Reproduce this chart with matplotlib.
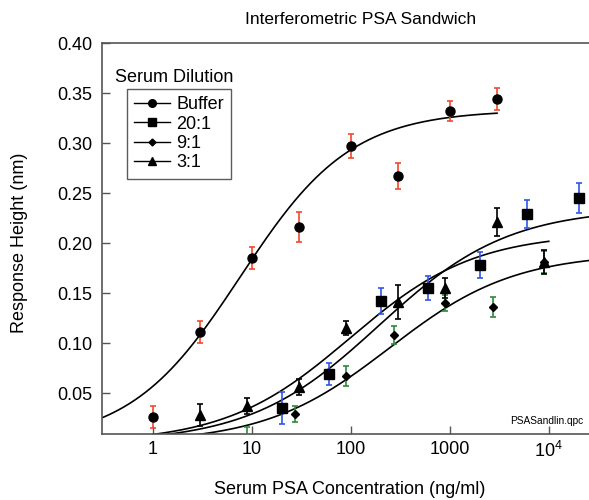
import numpy as np
import matplotlib
matplotlib.use("Agg")
import matplotlib.pyplot as plt
from matplotlib.lines import Line2D
from matplotlib.ticker import FixedLocator, FixedFormatter

plt.rcParams['font.family'] = ['Liberation Sans', 'DejaVu Sans']
plt.rcParams['mathtext.default'] = 'regular'

# measured points (conc ng/ml, response nm, +/- error)
buffer_x = [1, 3, 10, 30, 100, 300, 1000, 3000]
buffer_y = [0.026, 0.111, 0.185, 0.216, 0.297, 0.267, 0.332, 0.344]
buffer_err = [0.011, 0.011, 0.011, 0.015, 0.012, 0.013, 0.010, 0.011]

d20_x = [20, 60, 200, 600, 2000, 6000, 20000]
d20_y = [0.035, 0.069, 0.142, 0.155, 0.178, 0.229, 0.245]
d20_err = [0.016, 0.011, 0.013, 0.012, 0.013, 0.014, 0.015]

d9_x = [9, 27, 90, 270, 900, 2700, 9000]
d9_y = [0.004, 0.029, 0.067, 0.108, 0.140, 0.136, 0.181]
d9_err = [0.012, 0.008, 0.010, 0.009, 0.008, 0.010, 0.011]

d3_x = [3, 9, 30, 90, 300, 900, 3000, 9000]
d3_y = [0.028, 0.037, 0.056, 0.115, 0.141, 0.155, 0.221, 0.181]
d3_err = [0.011, 0.008, 0.008, 0.007, 0.017, 0.010, 0.014, 0.012]

# logistic fit parameters (top, midpoint, slope) and drawn x range
fit_top = [0.333, 0.235, 0.19, 0.21]
fit_mid = [7.65, 192, 245, 98]
fit_slope = [0.777, 0.663, 0.687, 0.689]
fit_xmin = [0.3, 1, 1, 1]
fit_xmax = [3000, 30000, 30000, 10000]

labels = ['Buffer', '20:1', '9:1', '3:1']
markers = ['o', 's', 'D', '^']
msizes = [6.5, 6.5, 4.5, 6.5]
err_colors = ['#ee4a2e', '#2f55ea', '#2b8a3c', 'black']

series = [(buffer_x, buffer_y, buffer_err), (d20_x, d20_y, d20_err),
          (d9_x, d9_y, d9_err), (d3_x, d3_y, d3_err)]

fig = plt.figure(figsize=(5.89, 5.0), dpi=100)
ax = fig.add_axes([102 / 589, 66 / 500, 487 / 589, 391 / 500])

# fitted curves
for i in range(4):
    xs = np.logspace(np.log10(fit_xmin[i]), np.log10(fit_xmax[i]), 300)
    u = (xs / fit_mid[i]) ** fit_slope[i]
    ax.plot(xs, fit_top[i] * u / (1 + u), color='black', lw=1.2, zorder=2)

# data with coloured error bars
for i, (x, y, e) in enumerate(series):
    ax.errorbar(x, y, yerr=e, fmt='none', ecolor=err_colors[i], elinewidth=1.2,
                capsize=2.5, capthick=1.2, zorder=3)
    ax.plot(x, y, linestyle='none', marker=markers[i], ms=msizes[i],
            color='black', zorder=4)

ax.set_xscale('log')
ax.set_xlim(0.305, 25500)
ax.set_ylim(0.009, 0.40)

ax.xaxis.set_major_locator(FixedLocator([1, 10, 100, 1000, 10000]))
ax.xaxis.set_major_formatter(FixedFormatter(['1', '10', '100', '1000', '10$^{4}$']))
ax.xaxis.set_minor_locator(FixedLocator([]))
yt = [0.05, 0.10, 0.15, 0.20, 0.25, 0.30, 0.35, 0.40]
ax.set_yticks(yt)
ax.set_yticklabels(['%.2f' % v for v in yt])
ax.tick_params(direction='in', length=6, width=1, color='#555555', labelsize=13)
ax.tick_params(axis='x', pad=5)
ax.tick_params(axis='y', pad=7)
ax.spines['right'].set_visible(False)
for s in ['left', 'bottom', 'top']:
    ax.spines[s].set_color('#555555')
    ax.spines[s].set_linewidth(1.2)

fig.text(361 / 589, 1 - 20 / 500, 'Interferometric PSA Sandwich', ha='center', va='center', fontsize=12.5)
fig.text(350 / 589, 1 - 490 / 500, 'Serum PSA Concentration (ng/ml)', ha='center', va='center', fontsize=13)
fig.text(20 / 589, 1 - 243 / 500, 'Response Height (nm)', ha='center', va='center',
         rotation=90, fontsize=13)

ax.text(0.988, 0.033, 'PSASandlin.qpc', transform=ax.transAxes, ha='right', va='center', fontsize=7.3)
ax.text(0.027, 0.913, 'Serum Dilution', transform=ax.transAxes, ha='left', va='center', fontsize=13)

handles = [Line2D([], [], color='black', lw=1, marker=markers[i], ms=msizes[i] - 1)
           for i in range(4)]
leg = ax.legend(handles, labels, loc='upper left', bbox_to_anchor=(0.051, 0.882),
                borderaxespad=0, fontsize=13, frameon=True, fancybox=False,
                edgecolor='#333333', labelspacing=0.13, handlelength=2.0,
                handletextpad=0.35, borderpad=0.4)
leg.get_frame().set_linewidth(1.0)

plt.savefig('out.png', dpi=100)
